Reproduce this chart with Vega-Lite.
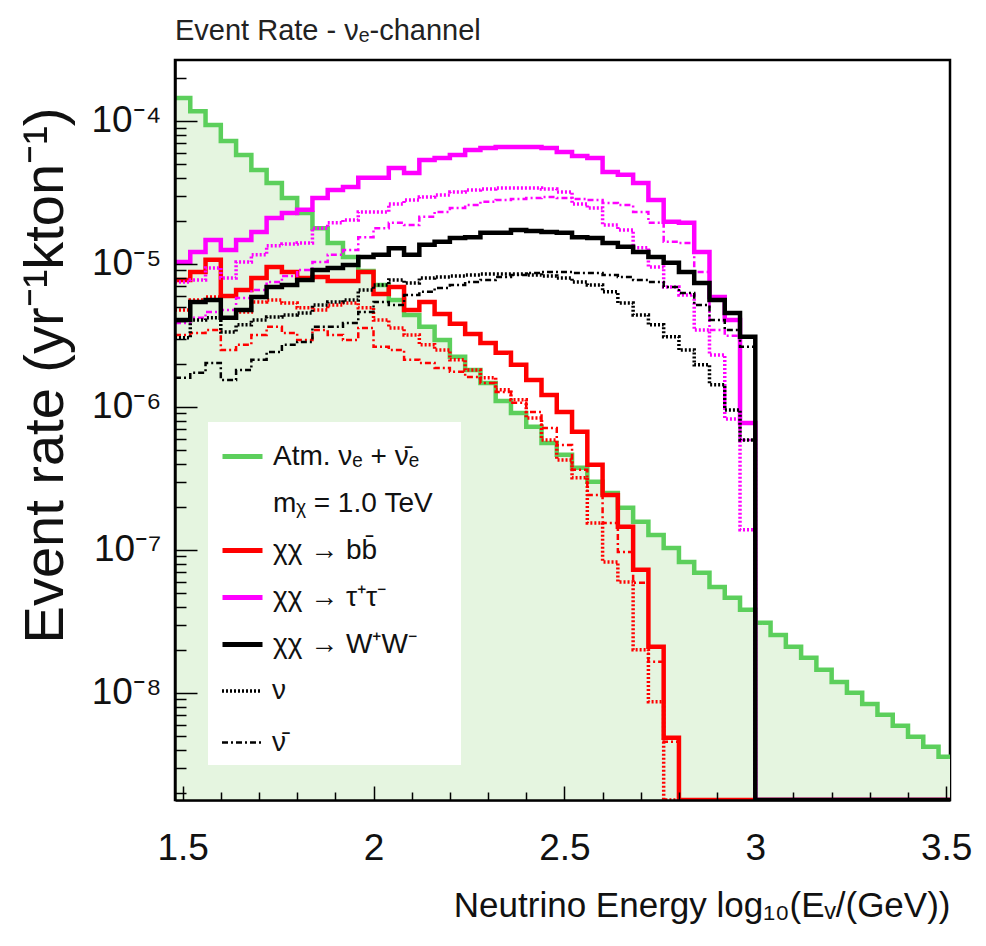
{
"$schema": "https://vega.github.io/schema/vega-lite/v6.json",
"width": 775, "height": 740,
"autosize": {"type": "none"},
"padding": {"left": 175, "top": 60, "right": 36, "bottom": 146},
"background": "white",
"config": {
  "font": "Liberation Sans, Arial, sans-serif",
  "view": {"stroke": "black", "strokeWidth": 2.5},
  "axis": {"domainColor": "black", "domainWidth": 2.5, "tickColor": "black", "tickWidth": 1.5, "grid": false, "labelColor": "#111", "titleColor": "#111", "titleFontWeight": "normal", "labelFont": "Liberation Sans, Arial, sans-serif", "titleFont": "Liberation Sans, Arial, sans-serif"},
  "legend": {"labelFont": "Liberation Sans, Arial, sans-serif", "labelColor": "#111"}
},
"title": {"text": "Event Rate - \u03bd\u2091-channel", "anchor": "start", "frame": "group", "fontSize": 29, "fontWeight": "normal", "color": "#222", "offset": 14},
"data": {"values": [
{"c":"atm","f":"tot","x":1.48,"y":1.45e-4},{"c":"atm","f":"tot","x":1.52,"y":1.17e-4},{"c":"atm","f":"tot","x":1.56,"y":9.38e-5},{"c":"atm","f":"tot","x":1.60,"y":7.25e-5},{"c":"atm","f":"tot","x":1.64,"y":5.78e-5},{"c":"atm","f":"tot","x":1.68,"y":4.54e-5},{"c":"atm","f":"tot","x":1.72,"y":3.69e-5},{"c":"atm","f":"tot","x":1.76,"y":2.89e-5},{"c":"atm","f":"tot","x":1.80,"y":2.27e-5},{"c":"atm","f":"tot","x":1.84,"y":1.78e-5},{"c":"atm","f":"tot","x":1.88,"y":1.40e-5},{"c":"atm","f":"tot","x":1.92,"y":1.12e-5},{"c":"atm","f":"tot","x":1.96,"y":8.93e-6},{"c":"atm","f":"tot","x":2.00,"y":7.13e-6},{"c":"atm","f":"tot","x":2.04,"y":5.60e-6},{"c":"atm","f":"tot","x":2.08,"y":4.40e-6},{"c":"atm","f":"tot","x":2.12,"y":3.63e-6},{"c":"atm","f":"tot","x":2.16,"y":2.94e-6},{"c":"atm","f":"tot","x":2.20,"y":2.24e-6},{"c":"atm","f":"tot","x":2.24,"y":1.81e-6},{"c":"atm","f":"tot","x":2.28,"y":1.47e-6},{"c":"atm","f":"tot","x":2.32,"y":1.10e-6},{"c":"atm","f":"tot","x":2.36,"y":9.08e-7},{"c":"atm","f":"tot","x":2.40,"y":7.25e-7},{"c":"atm","f":"tot","x":2.44,"y":5.60e-7},{"c":"atm","f":"tot","x":2.48,"y":4.62e-7},{"c":"atm","f":"tot","x":2.52,"y":3.75e-7},{"c":"atm","f":"tot","x":2.56,"y":2.99e-7},{"c":"atm","f":"tot","x":2.60,"y":2.50e-7},{"c":"atm","f":"tot","x":2.64,"y":1.97e-7},{"c":"atm","f":"tot","x":2.68,"y":1.57e-7},{"c":"atm","f":"tot","x":2.72,"y":1.27e-7},{"c":"atm","f":"tot","x":2.76,"y":1.03e-7},{"c":"atm","f":"tot","x":2.80,"y":8.24e-8},{"c":"atm","f":"tot","x":2.84,"y":6.91e-8},{"c":"atm","f":"tot","x":2.88,"y":5.51e-8},{"c":"atm","f":"tot","x":2.92,"y":4.62e-8},{"c":"atm","f":"tot","x":2.96,"y":3.81e-8},{"c":"atm","f":"tot","x":3.00,"y":3.09e-8},{"c":"atm","f":"tot","x":3.04,"y":2.54e-8},{"c":"atm","f":"tot","x":3.08,"y":2.10e-8},{"c":"atm","f":"tot","x":3.12,"y":1.76e-8},{"c":"atm","f":"tot","x":3.16,"y":1.45e-8},{"c":"atm","f":"tot","x":3.20,"y":1.19e-8},{"c":"atm","f":"tot","x":3.24,"y":1.00e-8},{"c":"atm","f":"tot","x":3.28,"y":8.37e-9},{"c":"atm","f":"tot","x":3.32,"y":7.02e-9},{"c":"atm","f":"tot","x":3.36,"y":5.88e-9},{"c":"atm","f":"tot","x":3.40,"y":4.93e-9},{"c":"atm","f":"tot","x":3.44,"y":4.20e-9},{"c":"atm","f":"tot","x":3.48,"y":3.57e-9},{"c":"atm","f":"tot","x":3.52,"y":3.57e-9},

{"c":"bb","f":"tot","x":1.48,"y":7.72e-6},{"c":"bb","f":"tot","x":1.52,"y":8.80e-6},{"c":"bb","f":"tot","x":1.56,"y":1.07e-5},{"c":"bb","f":"tot","x":1.60,"y":5.97e-6},{"c":"bb","f":"tot","x":1.64,"y":6.58e-6},{"c":"bb","f":"tot","x":1.68,"y":7.98e-6},{"c":"bb","f":"tot","x":1.72,"y":9.53e-6},{"c":"bb","f":"tot","x":1.76,"y":8.80e-6},{"c":"bb","f":"tot","x":1.80,"y":7.98e-6},{"c":"bb","f":"tot","x":1.84,"y":8.11e-6},{"c":"bb","f":"tot","x":1.88,"y":7.60e-6},{"c":"bb","f":"tot","x":1.92,"y":7.60e-6},{"c":"bb","f":"tot","x":1.96,"y":8.80e-6},{"c":"bb","f":"tot","x":2.00,"y":6.17e-6},{"c":"bb","f":"tot","x":2.04,"y":6.91e-6},{"c":"bb","f":"tot","x":2.08,"y":4.77e-6},{"c":"bb","f":"tot","x":2.12,"y":5.42e-6},{"c":"bb","f":"tot","x":2.16,"y":4.47e-6},{"c":"bb","f":"tot","x":2.20,"y":3.81e-6},{"c":"bb","f":"tot","x":2.24,"y":3.24e-6},{"c":"bb","f":"tot","x":2.28,"y":2.80e-6},{"c":"bb","f":"tot","x":2.32,"y":2.39e-6},{"c":"bb","f":"tot","x":2.36,"y":1.97e-6},{"c":"bb","f":"tot","x":2.40,"y":1.54e-6},{"c":"bb","f":"tot","x":2.44,"y":1.21e-6},{"c":"bb","f":"tot","x":2.48,"y":9.23e-7},{"c":"bb","f":"tot","x":2.52,"y":6.69e-7},{"c":"bb","f":"tot","x":2.56,"y":3.94e-7},{"c":"bb","f":"tot","x":2.60,"y":2.42e-7},{"c":"bb","f":"tot","x":2.64,"y":1.45e-7},{"c":"bb","f":"tot","x":2.68,"y":7.25e-8},{"c":"bb","f":"tot","x":2.72,"y":2.10e-8},{"c":"bb","f":"tot","x":2.76,"y":4.85e-9},{"c":"bb","f":"tot","x":2.80,"y":1.78e-9},{"c":"bb","f":"tot","x":3.52,"y":1.78e-9},

{"c":"bb","f":"nu","x":1.48,"y":4.77e-6},{"c":"bb","f":"nu","x":1.52,"y":5.60e-6},{"c":"bb","f":"nu","x":1.56,"y":5.88e-6},{"c":"bb","f":"nu","x":1.60,"y":4.20e-6},{"c":"bb","f":"nu","x":1.64,"y":4.62e-6},{"c":"bb","f":"nu","x":1.68,"y":5.42e-6},{"c":"bb","f":"nu","x":1.72,"y":5.60e-6},{"c":"bb","f":"nu","x":1.76,"y":5.33e-6},{"c":"bb","f":"nu","x":1.80,"y":4.93e-6},{"c":"bb","f":"nu","x":1.84,"y":4.77e-6},{"c":"bb","f":"nu","x":1.88,"y":5.17e-6},{"c":"bb","f":"nu","x":1.92,"y":5.33e-6},{"c":"bb","f":"nu","x":1.96,"y":4.93e-6},{"c":"bb","f":"nu","x":2.00,"y":4.06e-6},{"c":"bb","f":"nu","x":2.04,"y":3.57e-6},{"c":"bb","f":"nu","x":2.08,"y":3.19e-6},{"c":"bb","f":"nu","x":2.12,"y":2.72e-6},{"c":"bb","f":"nu","x":2.16,"y":2.50e-6},{"c":"bb","f":"nu","x":2.20,"y":2.14e-6},{"c":"bb","f":"nu","x":2.24,"y":1.81e-6},{"c":"bb","f":"nu","x":2.28,"y":1.60e-6},{"c":"bb","f":"nu","x":2.32,"y":1.32e-6},{"c":"bb","f":"nu","x":2.36,"y":1.12e-6},{"c":"bb","f":"nu","x":2.40,"y":8.37e-7},{"c":"bb","f":"nu","x":2.44,"y":5.88e-7},{"c":"bb","f":"nu","x":2.48,"y":4.26e-7},{"c":"bb","f":"nu","x":2.52,"y":3.19e-7},{"c":"bb","f":"nu","x":2.56,"y":1.54e-7},{"c":"bb","f":"nu","x":2.60,"y":8.24e-8},{"c":"bb","f":"nu","x":2.64,"y":5.97e-8},{"c":"bb","f":"nu","x":2.68,"y":2.00e-8},{"c":"bb","f":"nu","x":2.72,"y":8.65e-9},{"c":"bb","f":"nu","x":2.76,"y":1.78e-9},{"c":"bb","f":"nu","x":3.52,"y":1.78e-9},

{"c":"bb","f":"nubar","x":1.48,"y":3.19e-6},{"c":"bb","f":"nubar","x":1.52,"y":3.29e-6},{"c":"bb","f":"nubar","x":1.56,"y":3.45e-6},{"c":"bb","f":"nubar","x":1.60,"y":2.50e-6},{"c":"bb","f":"nubar","x":1.64,"y":2.72e-6},{"c":"bb","f":"nubar","x":1.68,"y":3.19e-6},{"c":"bb","f":"nubar","x":1.72,"y":3.63e-6},{"c":"bb","f":"nubar","x":1.76,"y":3.29e-6},{"c":"bb","f":"nubar","x":1.80,"y":2.94e-6},{"c":"bb","f":"nubar","x":1.84,"y":3.45e-6},{"c":"bb","f":"nubar","x":1.88,"y":3.19e-6},{"c":"bb","f":"nubar","x":1.92,"y":2.94e-6},{"c":"bb","f":"nubar","x":1.96,"y":3.57e-6},{"c":"bb","f":"nubar","x":2.00,"y":2.63e-6},{"c":"bb","f":"nubar","x":2.04,"y":2.50e-6},{"c":"bb","f":"nubar","x":2.08,"y":2.14e-6},{"c":"bb","f":"nubar","x":2.12,"y":2.03e-6},{"c":"bb","f":"nubar","x":2.16,"y":1.87e-6},{"c":"bb","f":"nubar","x":2.20,"y":1.76e-6},{"c":"bb","f":"nubar","x":2.24,"y":1.62e-6},{"c":"bb","f":"nubar","x":2.28,"y":1.47e-6},{"c":"bb","f":"nubar","x":2.32,"y":1.27e-6},{"c":"bb","f":"nubar","x":2.36,"y":1.07e-6},{"c":"bb","f":"nubar","x":2.40,"y":9.23e-7},{"c":"bb","f":"nubar","x":2.44,"y":7.13e-7},{"c":"bb","f":"nubar","x":2.48,"y":5.42e-7},{"c":"bb","f":"nubar","x":2.52,"y":3.63e-7},{"c":"bb","f":"nubar","x":2.56,"y":2.42e-7},{"c":"bb","f":"nubar","x":2.60,"y":1.54e-7},{"c":"bb","f":"nubar","x":2.64,"y":9.68e-8},{"c":"bb","f":"nubar","x":2.68,"y":5.88e-8},{"c":"bb","f":"nubar","x":2.72,"y":1.65e-8},{"c":"bb","f":"nubar","x":2.76,"y":4.54e-9},{"c":"bb","f":"nubar","x":2.80,"y":1.78e-9},{"c":"bb","f":"nubar","x":3.52,"y":1.78e-9},

{"c":"tt","f":"tot","x":1.48,"y":1.03e-5},{"c":"tt","f":"tot","x":1.52,"y":1.21e-5},{"c":"tt","f":"tot","x":1.56,"y":1.47e-5},{"c":"tt","f":"tot","x":1.60,"y":1.25e-5},{"c":"tt","f":"tot","x":1.64,"y":1.47e-5},{"c":"tt","f":"tot","x":1.68,"y":1.67e-5},{"c":"tt","f":"tot","x":1.72,"y":2.10e-5},{"c":"tt","f":"tot","x":1.76,"y":2.27e-5},{"c":"tt","f":"tot","x":1.80,"y":2.39e-5},{"c":"tt","f":"tot","x":1.84,"y":2.89e-5},{"c":"tt","f":"tot","x":1.88,"y":3.29e-5},{"c":"tt","f":"tot","x":1.92,"y":3.45e-5},{"c":"tt","f":"tot","x":1.96,"y":4.00e-5},{"c":"tt","f":"tot","x":2.00,"y":4.00e-5},{"c":"tt","f":"tot","x":2.04,"y":4.69e-5},{"c":"tt","f":"tot","x":2.08,"y":4.33e-5},{"c":"tt","f":"tot","x":2.12,"y":5.33e-5},{"c":"tt","f":"tot","x":2.16,"y":5.51e-5},{"c":"tt","f":"tot","x":2.20,"y":5.78e-5},{"c":"tt","f":"tot","x":2.24,"y":6.27e-5},{"c":"tt","f":"tot","x":2.28,"y":6.48e-5},{"c":"tt","f":"tot","x":2.32,"y":6.58e-5},{"c":"tt","f":"tot","x":2.36,"y":6.58e-5},{"c":"tt","f":"tot","x":2.40,"y":6.58e-5},{"c":"tt","f":"tot","x":2.44,"y":6.48e-5},{"c":"tt","f":"tot","x":2.48,"y":6.07e-5},{"c":"tt","f":"tot","x":2.52,"y":5.69e-5},{"c":"tt","f":"tot","x":2.56,"y":5.51e-5},{"c":"tt","f":"tot","x":2.60,"y":4.40e-5},{"c":"tt","f":"tot","x":2.64,"y":4.20e-5},{"c":"tt","f":"tot","x":2.68,"y":3.69e-5},{"c":"tt","f":"tot","x":2.72,"y":2.80e-5},{"c":"tt","f":"tot","x":2.76,"y":1.97e-5},{"c":"tt","f":"tot","x":2.80,"y":1.94e-5},{"c":"tt","f":"tot","x":2.84,"y":1.21e-5},{"c":"tt","f":"tot","x":2.88,"y":5.88e-6},{"c":"tt","f":"tot","x":2.92,"y":4.06e-6},{"c":"tt","f":"tot","x":2.96,"y":7.72e-7},{"c":"tt","f":"tot","x":3.00,"y":1.78e-9},{"c":"tt","f":"tot","x":3.52,"y":1.78e-9},

{"c":"tt","f":"nu","x":1.48,"y":7.48e-6},{"c":"tt","f":"nu","x":1.52,"y":7.72e-6},{"c":"tt","f":"nu","x":1.56,"y":9.38e-6},{"c":"tt","f":"nu","x":1.60,"y":7.98e-6},{"c":"tt","f":"nu","x":1.64,"y":1.03e-5},{"c":"tt","f":"nu","x":1.68,"y":1.16e-5},{"c":"tt","f":"nu","x":1.72,"y":1.34e-5},{"c":"tt","f":"nu","x":1.76,"y":1.38e-5},{"c":"tt","f":"nu","x":1.80,"y":1.40e-5},{"c":"tt","f":"nu","x":1.84,"y":1.78e-5},{"c":"tt","f":"nu","x":1.88,"y":1.94e-5},{"c":"tt","f":"nu","x":1.92,"y":2.03e-5},{"c":"tt","f":"nu","x":1.96,"y":2.31e-5},{"c":"tt","f":"nu","x":2.00,"y":2.31e-5},{"c":"tt","f":"nu","x":2.04,"y":2.63e-5},{"c":"tt","f":"nu","x":2.08,"y":2.80e-5},{"c":"tt","f":"nu","x":2.12,"y":2.94e-5},{"c":"tt","f":"nu","x":2.16,"y":3.04e-5},{"c":"tt","f":"nu","x":2.20,"y":3.19e-5},{"c":"tt","f":"nu","x":2.24,"y":3.29e-5},{"c":"tt","f":"nu","x":2.28,"y":3.34e-5},{"c":"tt","f":"nu","x":2.32,"y":3.40e-5},{"c":"tt","f":"nu","x":2.36,"y":3.40e-5},{"c":"tt","f":"nu","x":2.40,"y":3.40e-5},{"c":"tt","f":"nu","x":2.44,"y":3.34e-5},{"c":"tt","f":"nu","x":2.48,"y":3.19e-5},{"c":"tt","f":"nu","x":2.52,"y":2.63e-5},{"c":"tt","f":"nu","x":2.56,"y":2.46e-5},{"c":"tt","f":"nu","x":2.60,"y":1.87e-5},{"c":"tt","f":"nu","x":2.64,"y":1.73e-5},{"c":"tt","f":"nu","x":2.68,"y":1.30e-5},{"c":"tt","f":"nu","x":2.72,"y":9.53e-6},{"c":"tt","f":"nu","x":2.76,"y":6.91e-6},{"c":"tt","f":"nu","x":2.80,"y":6.07e-6},{"c":"tt","f":"nu","x":2.84,"y":3.45e-6},{"c":"tt","f":"nu","x":2.88,"y":2.31e-6},{"c":"tt","f":"nu","x":2.92,"y":8.24e-7},{"c":"tt","f":"nu","x":2.96,"y":1.38e-7},{"c":"tt","f":"nu","x":3.00,"y":1.78e-9},{"c":"tt","f":"nu","x":3.52,"y":1.78e-9},

{"c":"tt","f":"nubar","x":1.48,"y":3.87e-6},{"c":"tt","f":"nubar","x":1.52,"y":4.20e-6},{"c":"tt","f":"nubar","x":1.56,"y":4.62e-6},{"c":"tt","f":"nubar","x":1.60,"y":4.77e-6},{"c":"tt","f":"nubar","x":1.64,"y":5.78e-6},{"c":"tt","f":"nubar","x":1.68,"y":6.58e-6},{"c":"tt","f":"nubar","x":1.72,"y":7.48e-6},{"c":"tt","f":"nubar","x":1.76,"y":8.24e-6},{"c":"tt","f":"nubar","x":1.80,"y":9.08e-6},{"c":"tt","f":"nubar","x":1.84,"y":1.03e-5},{"c":"tt","f":"nubar","x":1.88,"y":1.16e-5},{"c":"tt","f":"nubar","x":1.92,"y":1.25e-5},{"c":"tt","f":"nubar","x":1.96,"y":1.54e-5},{"c":"tt","f":"nubar","x":2.00,"y":1.78e-5},{"c":"tt","f":"nubar","x":2.04,"y":1.94e-5},{"c":"tt","f":"nubar","x":2.08,"y":1.87e-5},{"c":"tt","f":"nubar","x":2.12,"y":2.14e-5},{"c":"tt","f":"nubar","x":2.16,"y":2.31e-5},{"c":"tt","f":"nubar","x":2.20,"y":2.46e-5},{"c":"tt","f":"nubar","x":2.24,"y":2.58e-5},{"c":"tt","f":"nubar","x":2.28,"y":2.72e-5},{"c":"tt","f":"nubar","x":2.32,"y":2.80e-5},{"c":"tt","f":"nubar","x":2.36,"y":2.85e-5},{"c":"tt","f":"nubar","x":2.40,"y":2.89e-5},{"c":"tt","f":"nubar","x":2.44,"y":2.94e-5},{"c":"tt","f":"nubar","x":2.48,"y":2.89e-5},{"c":"tt","f":"nubar","x":2.52,"y":2.85e-5},{"c":"tt","f":"nubar","x":2.56,"y":2.80e-5},{"c":"tt","f":"nubar","x":2.60,"y":2.67e-5},{"c":"tt","f":"nubar","x":2.64,"y":2.58e-5},{"c":"tt","f":"nubar","x":2.68,"y":2.31e-5},{"c":"tt","f":"nubar","x":2.72,"y":1.94e-5},{"c":"tt","f":"nubar","x":2.76,"y":1.43e-5},{"c":"tt","f":"nubar","x":2.80,"y":1.40e-5},{"c":"tt","f":"nubar","x":2.84,"y":8.80e-6},{"c":"tt","f":"nubar","x":2.88,"y":3.45e-6},{"c":"tt","f":"nubar","x":2.92,"y":3.14e-6},{"c":"tt","f":"nubar","x":2.96,"y":5.88e-7},{"c":"tt","f":"nubar","x":3.00,"y":1.78e-9},{"c":"tt","f":"nubar","x":3.52,"y":1.78e-9},

{"c":"ww","f":"tot","x":1.48,"y":4.06e-6},{"c":"ww","f":"tot","x":1.52,"y":5.42e-6},{"c":"ww","f":"tot","x":1.56,"y":5.60e-6},{"c":"ww","f":"tot","x":1.60,"y":4.20e-6},{"c":"ww","f":"tot","x":1.64,"y":4.77e-6},{"c":"ww","f":"tot","x":1.68,"y":5.88e-6},{"c":"ww","f":"tot","x":1.72,"y":6.91e-6},{"c":"ww","f":"tot","x":1.76,"y":7.13e-6},{"c":"ww","f":"tot","x":1.80,"y":7.72e-6},{"c":"ww","f":"tot","x":1.84,"y":9.08e-6},{"c":"ww","f":"tot","x":1.88,"y":9.38e-6},{"c":"ww","f":"tot","x":1.92,"y":9.84e-6},{"c":"ww","f":"tot","x":1.96,"y":1.12e-5},{"c":"ww","f":"tot","x":2.00,"y":1.16e-5},{"c":"ww","f":"tot","x":2.04,"y":1.29e-5},{"c":"ww","f":"tot","x":2.08,"y":1.16e-5},{"c":"ww","f":"tot","x":2.12,"y":1.36e-5},{"c":"ww","f":"tot","x":2.16,"y":1.43e-5},{"c":"ww","f":"tot","x":2.20,"y":1.52e-5},{"c":"ww","f":"tot","x":2.24,"y":1.54e-5},{"c":"ww","f":"tot","x":2.28,"y":1.65e-5},{"c":"ww","f":"tot","x":2.32,"y":1.65e-5},{"c":"ww","f":"tot","x":2.36,"y":1.73e-5},{"c":"ww","f":"tot","x":2.40,"y":1.70e-5},{"c":"ww","f":"tot","x":2.44,"y":1.67e-5},{"c":"ww","f":"tot","x":2.48,"y":1.65e-5},{"c":"ww","f":"tot","x":2.52,"y":1.54e-5},{"c":"ww","f":"tot","x":2.56,"y":1.52e-5},{"c":"ww","f":"tot","x":2.60,"y":1.40e-5},{"c":"ww","f":"tot","x":2.64,"y":1.32e-5},{"c":"ww","f":"tot","x":2.68,"y":1.21e-5},{"c":"ww","f":"tot","x":2.72,"y":1.12e-5},{"c":"ww","f":"tot","x":2.76,"y":1.02e-5},{"c":"ww","f":"tot","x":2.80,"y":8.80e-6},{"c":"ww","f":"tot","x":2.84,"y":7.37e-6},{"c":"ww","f":"tot","x":2.88,"y":5.60e-6},{"c":"ww","f":"tot","x":2.92,"y":4.54e-6},{"c":"ww","f":"tot","x":2.96,"y":3.09e-6},{"c":"ww","f":"tot","x":3.00,"y":1.78e-9},{"c":"ww","f":"tot","x":3.52,"y":1.78e-9},

{"c":"ww","f":"nu","x":1.48,"y":3.04e-6},{"c":"ww","f":"nu","x":1.52,"y":4.06e-6},{"c":"ww","f":"nu","x":1.56,"y":4.20e-6},{"c":"ww","f":"nu","x":1.60,"y":3.34e-6},{"c":"ww","f":"nu","x":1.64,"y":3.75e-6},{"c":"ww","f":"nu","x":1.68,"y":4.06e-6},{"c":"ww","f":"nu","x":1.72,"y":4.26e-6},{"c":"ww","f":"nu","x":1.76,"y":4.40e-6},{"c":"ww","f":"nu","x":1.80,"y":4.54e-6},{"c":"ww","f":"nu","x":1.84,"y":5.17e-6},{"c":"ww","f":"nu","x":1.88,"y":5.42e-6},{"c":"ww","f":"nu","x":1.92,"y":5.60e-6},{"c":"ww","f":"nu","x":1.96,"y":6.58e-6},{"c":"ww","f":"nu","x":2.00,"y":7.13e-6},{"c":"ww","f":"nu","x":2.04,"y":7.72e-6},{"c":"ww","f":"nu","x":2.08,"y":7.37e-6},{"c":"ww","f":"nu","x":2.12,"y":7.98e-6},{"c":"ww","f":"nu","x":2.16,"y":8.11e-6},{"c":"ww","f":"nu","x":2.20,"y":8.24e-6},{"c":"ww","f":"nu","x":2.24,"y":8.37e-6},{"c":"ww","f":"nu","x":2.28,"y":8.51e-6},{"c":"ww","f":"nu","x":2.32,"y":8.51e-6},{"c":"ww","f":"nu","x":2.36,"y":8.51e-6},{"c":"ww","f":"nu","x":2.40,"y":8.37e-6},{"c":"ww","f":"nu","x":2.44,"y":8.24e-6},{"c":"ww","f":"nu","x":2.48,"y":7.98e-6},{"c":"ww","f":"nu","x":2.52,"y":7.48e-6},{"c":"ww","f":"nu","x":2.56,"y":7.13e-6},{"c":"ww","f":"nu","x":2.60,"y":6.38e-6},{"c":"ww","f":"nu","x":2.64,"y":5.33e-6},{"c":"ww","f":"nu","x":2.68,"y":4.40e-6},{"c":"ww","f":"nu","x":2.72,"y":3.75e-6},{"c":"ww","f":"nu","x":2.76,"y":3.09e-6},{"c":"ww","f":"nu","x":2.80,"y":2.50e-6},{"c":"ww","f":"nu","x":2.84,"y":1.97e-6},{"c":"ww","f":"nu","x":2.88,"y":1.43e-6},{"c":"ww","f":"nu","x":2.92,"y":9.53e-7},{"c":"ww","f":"nu","x":2.96,"y":5.88e-7},{"c":"ww","f":"nu","x":3.00,"y":1.78e-9},{"c":"ww","f":"nu","x":3.52,"y":1.78e-9},

{"c":"ww","f":"nubar","x":1.48,"y":1.60e-6},{"c":"ww","f":"nubar","x":1.52,"y":1.73e-6},{"c":"ww","f":"nubar","x":1.56,"y":2.03e-6},{"c":"ww","f":"nubar","x":1.60,"y":1.54e-6},{"c":"ww","f":"nubar","x":1.64,"y":1.81e-6},{"c":"ww","f":"nubar","x":1.68,"y":2.14e-6},{"c":"ww","f":"nubar","x":1.72,"y":2.42e-6},{"c":"ww","f":"nubar","x":1.76,"y":2.72e-6},{"c":"ww","f":"nubar","x":1.80,"y":2.85e-6},{"c":"ww","f":"nubar","x":1.84,"y":3.63e-6},{"c":"ww","f":"nubar","x":1.88,"y":3.63e-6},{"c":"ww","f":"nubar","x":1.92,"y":3.87e-6},{"c":"ww","f":"nubar","x":1.96,"y":4.62e-6},{"c":"ww","f":"nubar","x":2.00,"y":5.42e-6},{"c":"ww","f":"nubar","x":2.04,"y":5.17e-6},{"c":"ww","f":"nubar","x":2.08,"y":6.07e-6},{"c":"ww","f":"nubar","x":2.12,"y":6.38e-6},{"c":"ww","f":"nubar","x":2.16,"y":6.80e-6},{"c":"ww","f":"nubar","x":2.20,"y":7.13e-6},{"c":"ww","f":"nubar","x":2.24,"y":7.48e-6},{"c":"ww","f":"nubar","x":2.28,"y":7.72e-6},{"c":"ww","f":"nubar","x":2.32,"y":8.11e-6},{"c":"ww","f":"nubar","x":2.36,"y":8.37e-6},{"c":"ww","f":"nubar","x":2.40,"y":8.65e-6},{"c":"ww","f":"nubar","x":2.44,"y":8.80e-6},{"c":"ww","f":"nubar","x":2.48,"y":8.80e-6},{"c":"ww","f":"nubar","x":2.52,"y":8.65e-6},{"c":"ww","f":"nubar","x":2.56,"y":8.65e-6},{"c":"ww","f":"nubar","x":2.60,"y":8.37e-6},{"c":"ww","f":"nubar","x":2.64,"y":8.11e-6},{"c":"ww","f":"nubar","x":2.68,"y":7.72e-6},{"c":"ww","f":"nubar","x":2.72,"y":7.48e-6},{"c":"ww","f":"nubar","x":2.76,"y":6.91e-6},{"c":"ww","f":"nubar","x":2.80,"y":6.27e-6},{"c":"ww","f":"nubar","x":2.84,"y":5.17e-6},{"c":"ww","f":"nubar","x":2.88,"y":4.06e-6},{"c":"ww","f":"nubar","x":2.92,"y":3.45e-6},{"c":"ww","f":"nubar","x":2.96,"y":2.63e-6},{"c":"ww","f":"nubar","x":3.00,"y":1.78e-9},{"c":"ww","f":"nubar","x":3.52,"y":1.78e-9}
]},
"encoding": {
  "x": {"field": "x", "type": "quantitative",
        "scale": {"domain": [1.48, 3.51], "nice": false, "zero": false},
        "axis": {"zindex": 2, "values": [1.5, 1.6, 1.7, 1.8, 1.9, 2, 2.1, 2.2, 2.3, 2.4, 2.5, 2.6, 2.7, 2.8, 2.9, 3, 3.1, 3.2, 3.3, 3.4, 3.5],
                 "labelExpr": "abs(datum.value * 2 - round(datum.value * 2)) < 0.01 ? format(datum.value, '.1~f') : ''",
                 "labelFontSize": 37, "labelPadding": 44,
                 "tickSize": {"condition": {"test": "abs(datum.value * 2 - round(datum.value * 2)) < 0.01", "value": -14}, "value": -8},
                 "title": "Neutrino Energy log\u2081\u2080(E\u1d65/(GeV))", "titleFontSize": 35, "titleAnchor": "end", "titleAlign": "right", "titleX": 775, "titleY": 116, "titleBaseline": "alphabetic"}},
  "y": {"field": "y", "type": "quantitative",
        "scale": {"type": "log", "domain": [1.78e-9, 2.67e-4], "nice": false},
        "axis": {"zindex": 2, "values": [2e-9, 3e-9, 4e-9, 5e-9, 6e-9, 7e-9, 8e-9, 9e-9, 1e-8, 2e-8, 3e-8, 4e-8, 5e-8, 6e-8, 7e-8, 8e-8, 9e-8, 1e-7, 2e-7, 3e-7, 4e-7, 5e-7, 6e-7, 7e-7, 8e-7, 9e-7, 1e-6, 2e-6, 3e-6, 4e-6, 5e-6, 6e-6, 7e-6, 8e-6, 9e-6, 1e-5, 2e-5, 3e-5, 4e-5, 5e-5, 6e-5, 7e-5, 8e-5, 9e-5, 1e-4, 2e-4],
                 "labelFontSize": 37, "labelPadding": 36,
                 "tickSize": {"condition": {"test": "abs(log(datum.value) / LN10 - round(log(datum.value) / LN10)) < 0.01", "value": -22}, "value": -11},
                 "labelExpr": "abs(log(datum.value) / LN10 - round(log(datum.value) / LN10)) > 0.01 ? '' : datum.value > 5e-5 ? '10\u207b\u2074' : datum.value > 5e-6 ? '10\u207b\u2075' : datum.value > 5e-7 ? '10\u207b\u2076' : datum.value > 5e-8 ? '10\u207b\u2077' : '10\u207b\u2078'",
                 "title": "Event rate (yr\u207b\u00b9kton\u207b\u00b9)", "titleFontSize": 56, "titleFontWeight": "normal", "titleAngle": -90, "titleX": -130, "titleY": 315, "titleAlign": "center", "titleBaseline": "middle"}}
},
"layer": [
  {"transform": [{"filter": "datum.c == 'atm'"}],
   "mark": {"type": "area", "interpolate": "step-after", "clip": true, "color": "#e5f5e0"},
   "encoding": {"y2": {"datum": 1.78e-9}}},
  {"mark": {"type": "line", "interpolate": "step-after", "clip": true},
   "encoding": {
     "color": {"field": "c", "type": "nominal",
               "scale": {"domain": ["atm", "mx", "bb", "tt", "ww", "s1", "s2"], "range": ["#5ccf5c", "#ffffff", "#ff0000", "#ff00ff", "#000000", "#ffffff", "#ffffff"]},
               "legend": {"orient": "none", "legendX": 33, "legendY": 362, "title": null, "fillColor": "white", "padding": 12,
                          "symbolType": "stroke", "symbolSize": 1600, "symbolStrokeWidth": 5, "labelFontSize": 28, "labelOffset": 8, "rowPadding": 10, "labelLimit": 400,
                          "labelExpr": "datum.label == 'atm' ? 'Atm. \u03bd\u2091 + \u03bd\u0304\u2091' : datum.label == 'mx' ? 'm\u1d6a =   1.0 TeV' : datum.label == 'bb' ? '\u03c7\u03c7 \u2192 bb\u0304' : datum.label == 'tt' ? '\u03c7\u03c7 \u2192 \u03c4\u207a\u03c4\u207b' : datum.label == 'ww' ? '\u03c7\u03c7 \u2192 W\u207aW\u207b' : ''"}},
     "strokeDash": {"field": "f", "type": "nominal",
               "scale": {"domain": ["tot", "nu", "nubar"], "range": [[1, 0], [2, 2], [6, 3, 2, 3]]},
               "legend": {"orient": "none", "legendX": 33, "legendY": 597, "title": null, "padding": 12, "values": ["nu", "nubar"],
                          "symbolType": "stroke", "symbolSize": 1600, "symbolStrokeWidth": 3, "symbolStrokeColor": "black", "labelFontSize": 28, "labelOffset": 8, "rowPadding": 16, "labelLimit": 400,
                          "labelExpr": "datum.label == 'nu' ? '\u03bd' : '\u03bd\u0304'"}},
     "strokeWidth": {"field": "f", "type": "nominal",
               "scale": {"domain": ["tot", "nu", "nubar"], "range": [4.5, 2.5, 3]}, "legend": null}
   }}
]
}
